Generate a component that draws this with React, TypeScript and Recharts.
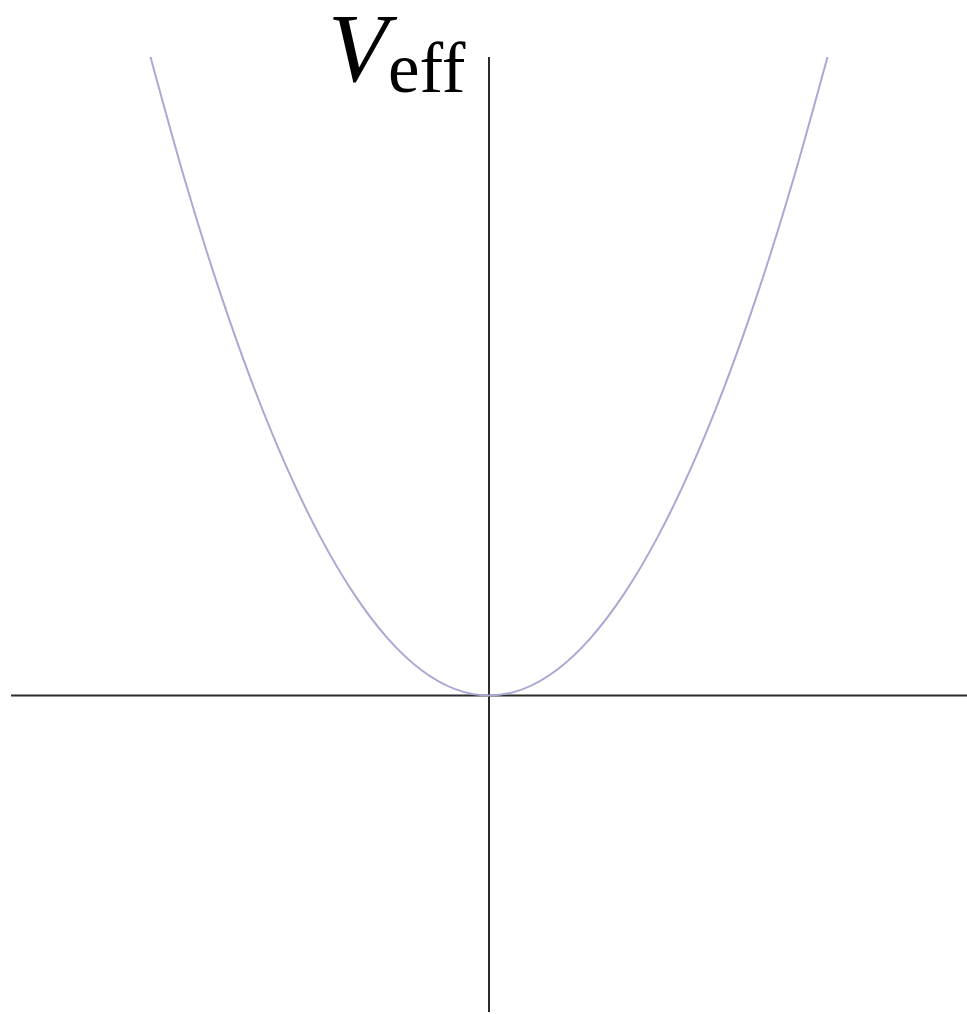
import React from "react";
import {
  ComposedChart,
  Line,
  XAxis,
  YAxis,
  ReferenceLine,
  Customized,
} from "recharts";

// Effective potential samples (r, V_eff), read along the well
const rValues = [
  -1.0, -0.9, -0.8, -0.7, -0.6, -0.5, -0.4, -0.3, -0.2, -0.1, 0,
  0.1, 0.2, 0.3, 0.4, 0.5, 0.6, 0.7, 0.8, 0.9, 1.0,
];
const vValues = [
  1.0, 0.81, 0.64, 0.49, 0.36, 0.25, 0.16, 0.09, 0.04, 0.01, 0,
  0.01, 0.04, 0.09, 0.16, 0.25, 0.36, 0.49, 0.64, 0.81, 1.0,
];

const axisLabel = { symbol: "V", sub: "eff" };

const W = 967;
const H = 1014;

const xDomain: [number, number] = [-1.4446, 1.4121];
const yDomain: [number, number] = [-0.4988, 1.0893];

const data = rValues.map((r, i) => ({ r, v: vValues[i] }));

const serif = "'Liberation Serif', 'DejaVu Serif', serif";

// V_eff written as an italic symbol with an upright subscript
const TitleLabel = () => (
  <g>
    <text x={328} y={81} fill="#000" fontFamily={serif} fontSize={98} fontStyle="italic">
      {axisLabel.symbol}
    </text>
    <text x={388} y={92} fill="#000" fontFamily={serif} fontSize={71}>
      {axisLabel.sub}
    </text>
  </g>
);

export default function App() {
  return (
    <div style={{ position: "absolute", left: 0, top: 0, background: "#fff" }}>
      <ComposedChart
        width={W}
        height={H}
        data={data}
        margin={{ top: 0, right: 0, bottom: 0, left: 0 }}
      >
        <XAxis
          dataKey="r"
          type="number"
          domain={xDomain}
          allowDataOverflow
          hide
        />
        <YAxis type="number" domain={yDomain} allowDataOverflow hide />

        {/* coordinate axes */}
        <ReferenceLine
          segment={[
            { x: -1.412, y: 0 },
            { x: 1.4121, y: 0 },
          ]}
          stroke="#2b2b2b"
          strokeWidth={2}
        />
        <ReferenceLine
          segment={[
            { x: 0, y: 1.0 },
            { x: 0, y: -0.4957 },
          ]}
          stroke="#2b2b2b"
          strokeWidth={2}
        />

        <Line
          type="natural"
          dataKey="v"
          stroke="#a9a9d3"
          strokeWidth={2}
          dot={false}
          activeDot={false}
          isAnimationActive={false}
        />

        <Customized component={TitleLabel} />
      </ComposedChart>
    </div>
  );
}
